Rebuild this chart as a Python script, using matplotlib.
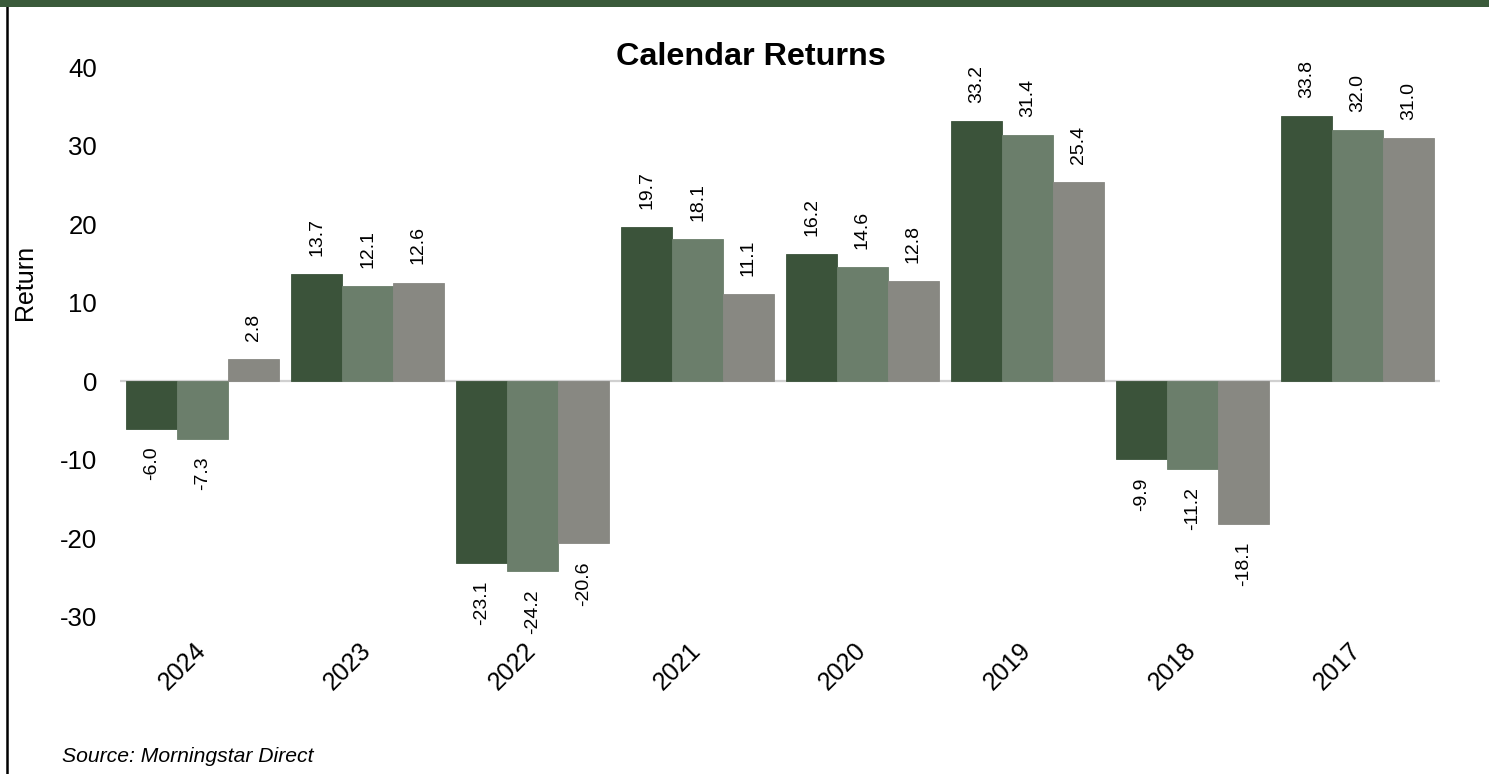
import matplotlib
matplotlib.use("Agg")
import matplotlib.pyplot as plt
import numpy as np
from matplotlib.patches import Rectangle
from matplotlib.lines import Line2D

plt.rcParams['font.family'] = ['Liberation Sans', 'DejaVu Sans']

years = ["2024", "2023", "2022", "2021", "2020", "2019", "2018", "2017"]
fund = [-6.0, 13.7, -23.1, 19.7, 16.2, 33.2, -9.9, 33.8]
category = [-7.3, 12.1, -24.2, 18.1, 14.6, 31.4, -11.2, 32.0]
index = [2.8, 12.6, -20.6, 11.1, 12.8, 25.4, -18.1, 31.0]
series = [fund, category, index]
colors = ["#3b533a", "#6b7e6b", "#888882"]
yticks = [-30, -20, -10, 0, 10, 20, 30, 40]

W, H = 1489, 774
fig = plt.figure(figsize=(W / 100, H / 100), dpi=100)
ax = fig.add_axes([120 / W, 1 - 617 / H, (1440 - 120) / W, (617 - 67.4) / H])

x = np.arange(len(years))
bw = 0.309
for i, (vals, c) in enumerate(zip(series, colors)):
    pos = x + (i - 1) * bw
    ax.bar(pos, vals, width=bw, color=c, edgecolor=c, linewidth=0.6, zorder=2)
    for p, v in zip(pos, vals):
        off = 13 if v >= 0 else -13
        ax.annotate(f"{v:.1f}", xy=(p, v), xytext=(0, off), textcoords="offset points",
                    rotation=90, ha="center", va="bottom" if v >= 0 else "top",
                    fontsize=14, color="black")

ax.axhline(0, color="#d0d0d0", linewidth=1.6, zorder=1)
ax.set_xlim(-0.5, len(years) - 0.5)
ax.set_ylim(-30, 40)
ax.set_yticks(yticks)
ax.set_yticklabels([str(t) for t in yticks], fontsize=18.5)
ax.set_xticks(x)
ax.set_xticklabels(years, fontsize=18, rotation=45, ha="right", va="center",
                   rotation_mode="anchor")
ax.tick_params(axis="both", length=0)
ax.tick_params(axis="y", pad=16.5)
ax.tick_params(axis="x", pad=21.5)
for s in ax.spines.values():
    s.set_visible(False)
ax.set_ylabel("Return", fontsize=18)
ax.yaxis.set_label_coords(-(120 - 37) / (1440 - 120), (617 - 282) / (617 - 67.4))

fig.text(751 / W, 1 - 57 / H, "Calendar Returns", fontsize=23.3, fontweight="bold",
         ha="center", va="center")
fig.text(62 / W, 1 - 756 / H, "Source: Morningstar Direct", fontsize=15.2,
         style="italic", ha="left", va="center")

# top band and left border
fig.patches.append(Rectangle((0, 1 - 7 / H), 1, 7 / H, transform=fig.transFigure,
                             facecolor="#3a5a3a", edgecolor="none", zorder=5))
fig.lines.append(Line2D([7 / W, 7 / W], [0, 1 - 7 / H], transform=fig.transFigure,
                        color="black", linewidth=1.8, zorder=5))

fig.savefig("out.png", dpi=100)
